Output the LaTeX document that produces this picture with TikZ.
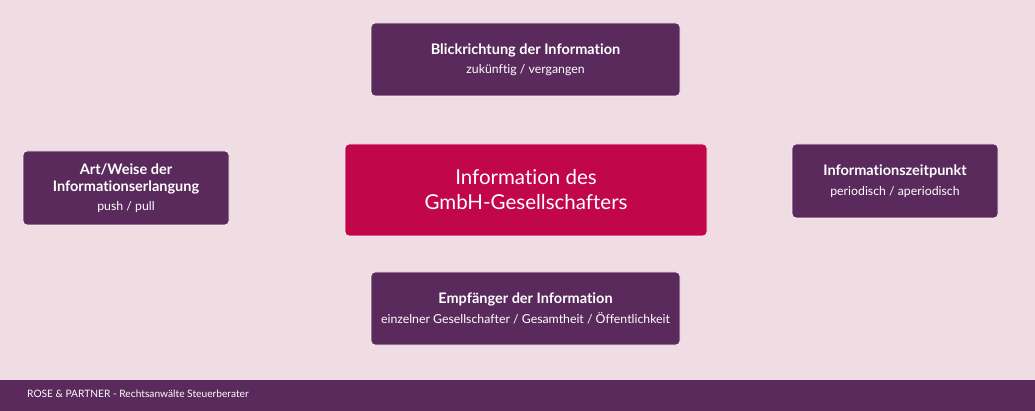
\documentclass[tikz,border=0pt]{standalone}
\usepackage{fontspec}
\setmainfont{Lato}[Ligatures=NoCommon]
\definecolor{bgpink}{HTML}{F0DCE3}
\definecolor{boxpurple}{HTML}{5A2A5C}
\definecolor{boxred}{HTML}{C1074A}
\tikzset{
  aspectbox/.style={fill=boxpurple, draw=white!60!bgpink, line width=0.8pt, rounded corners=4pt,
    text=white, align=center, inner sep=0pt, font=\fontsize{14.5}{19.5}\selectfont},
  corebox/.style={fill=boxred, draw=white!60!bgpink, line width=0.8pt, rounded corners=4pt,
    text=white, align=center, inner sep=0pt, font=\fontsize{20.5}{25}\selectfont},
}
\newcommand{\headline}[1]{{\bfseries #1}}
\newcommand{\subline}[1]{{\fontsize{12.3}{15}\selectfont #1}}
\begin{document}
\begin{tikzpicture}[x=1pt, y=-1pt]
        \fill[bgpink] (0,0) rectangle (1035,411);
        \useasboundingbox (0,0) rectangle (1035,411);

        \node[corebox, minimum width=362pt, minimum height=92pt] (core) at (526,190)
          {Information des\\GmbH-Gesellschafters};

        \node[aspectbox, minimum width=309pt, minimum height=73pt] (view) at (525.5,59.5)
          {\headline{Blickrichtung der Information}\\\subline{zukünftig / vergangen}};
        \node[aspectbox, minimum width=206pt, minimum height=74pt] (manner) at (126,188)
          {\headline{Art/Weise der}\\[-2.5pt]\headline{Informationserlangung}\\\subline{push / pull}};
        \node[aspectbox, minimum width=206pt, minimum height=74pt] (timing) at (895,181)
          {\headline{Informationszeitpunkt}\\\subline{periodisch / aperiodisch}};
        \node[aspectbox, minimum width=309pt, minimum height=73pt] (receiver) at (525.5,308.5)
          {\headline{Empfänger der Information}\\\subline{einzelner Gesellschafter / Gesamtheit / Öffentlichkeit}};

        % footer band
        \fill[boxpurple] (0,380) rectangle (1035,411);
        \node[anchor=west, text=white, inner sep=0pt, font=\fontsize{10.2}{12}\selectfont] (footer) at (27,394)
          {ROSE \& PARTNER - Rechtsanwälte Steuerberater};
    \end{tikzpicture}
\end{document}
